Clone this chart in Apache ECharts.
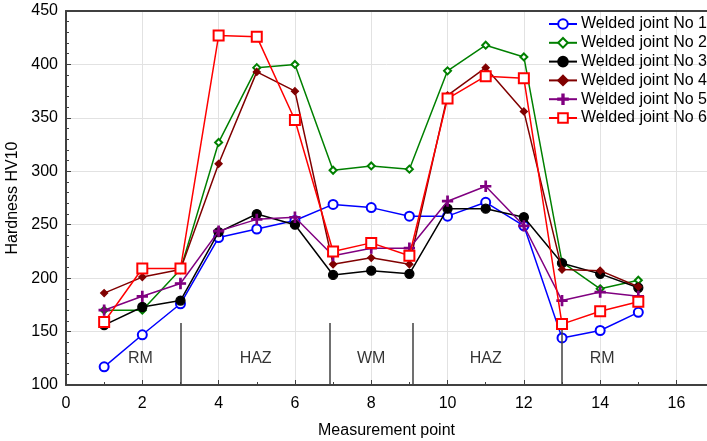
<!DOCTYPE html>
<html>
<head>
<meta charset="utf-8">
<script src="https://cdn.jsdelivr.net/npm/echarts@6/dist/echarts.min.js"></script>
<style>html,body{margin:0;padding:0;background:#fff}#c{width:707px;height:441px}</style>
</head>
<body>
<div id="c"></div>
<script>
var points = [1,2,3,4,5,6,7,8,9,10,11,12,13,14,15];
var seriesNames = ['Welded joint No 1','Welded joint No 2','Welded joint No 3','Welded joint No 4','Welded joint No 5','Welded joint No 6'];
var joint1 = [117,147,176,238,246,254,269,266,258,258,271,249,144,151,168];
var joint2 = [170,170,208,327,397,400,301,305,302,394,418,407,215,190,198];
var joint3 = [156,173,179,243,260,250,203,207,204,265,265,257,214,204,191];
var joint4 = [186,201,208,307,393,375,213,219,213,371,397,356,208,207,192];
var joint5 = [170,183,195,244,255,257,221,228,228,272,286,249,179,187,183];
var joint6 = [159,209,209,427,426,348,225,233,221,368,389,387,157,169,178];
var xTicks = [0,2,4,6,8,10,12,14,16];
var yTicks = [100,150,200,250,300,350,400,450];
var dividerX = [3, 6.9, 9.1, 13];
var dividerTop = 158;
var regionNames = ['RM','HAZ','WM','HAZ','RM'];
var regionX = [1.95, 4.97, 8.0, 11.0, 14.05];
var regionY = 125;

var colors = ['#0000ff','#008000','#000000','#800000','#800080','#ff0000'];
var symbols = ['emptyCircle','emptyDiamond','circle','diamond',
  'path://M4.3,0L5.7,0L5.7,4.3L10,4.3L10,5.7L5.7,5.7L5.7,10L4.3,10L4.3,5.7L0,5.7L0,4.3L4.3,4.3Z','emptyRect'];
var sizes = [9,7,9,7,10,10];
var allData = [joint1,joint2,joint3,joint4,joint5,joint6];

var FONT = 'Liberation Sans, Arial, sans-serif';
var FS = 16;
var series = allData.map(function(d,i){
  return {
    name: seriesNames[i], type:'line', data: points.map(function(p,j){return [p,d[j]];}),
    symbol: symbols[i], symbolSize: sizes[i], showAllSymbol:true,
    lineStyle:{color:colors[i], width:1.5},
    itemStyle:{color:colors[i], borderColor:colors[i], borderWidth:1.3},
    emphasis:{disabled:true}, animation:false, z: 3+i
  };
});
series.push({
  type:'line', name:'div', data:[], silent:true, animation:false,
  markLine:{silent:true, symbol:['none','none'], animation:false, label:{show:false},
    lineStyle:{color:'#404040', width:1.5, type:'solid'},
    data: dividerX.map(function(x){return [{coord:[x,dividerTop]},{coord:[x,100]}];})}
});
series.push({
  type:'scatter', name:'regions', symbolSize:0, silent:true, animation:false,
  data: regionNames.map(function(n,i){return {value:[regionX[i],regionY], name:n};}),
  label:{show:true, position:'inside', formatter:function(p){return p.name;}, color:'#000', fontSize:FS, fontFamily:FONT}
});

var chart = echarts.init(document.getElementById('c'), null, {renderer:'canvas'});
chart.setOption({
  animation:false,
  backgroundColor:'#fff',
  grid:{left:66, right:0, top:11, bottom:56, containLabel:false, outerBoundsMode:'none'},
  legend:{
    data: seriesNames, orient:'vertical', left:548, top:16,
    itemWidth:28, itemHeight:12, itemGap:2.8, padding:0,
    textStyle:{fontSize:FS, fontFamily:FONT, color:'#000', padding:[0,0,0,-1]},
    selectedMode:false
  },
  xAxis:[{
    type:'value', min:0, max:16.8, interval:2,
    name:'Measurement point', nameLocation:'middle', nameGap:38,
    nameTextStyle:{fontSize:FS, fontFamily:FONT, color:'#000'},
    axisLine:{show:true, onZero:false, lineStyle:{color:'#404040', width:2}},
    axisTick:{show:true, inside:true, length:5, lineStyle:{color:'#404040'}},
    minorTick:{show:true, splitNumber:2, length:3, lineStyle:{color:'#404040'}},
    axisLabel:{fontSize:FS, fontFamily:FONT, color:'#000', margin:11, showMaxLabel:false,
      formatter:function(v){return xTicks.indexOf(v)>=0 ? String(v) : '';}},
    splitLine:{show:true, lineStyle:{color:'#e2e2e2', width:1}}
  },{
    type:'value', position:'top', min:0, max:16.8,
    axisLine:{show:true, onZero:false, lineStyle:{color:'#404040', width:2}},
    axisTick:{show:false}, axisLabel:{show:false}, splitLine:{show:false}
  }],
  yAxis:{
    type:'value', min:100, max:450, interval:50,
    name:'Hardness HV10', nameLocation:'middle', nameGap:40,
    nameTextStyle:{fontSize:FS, fontFamily:FONT, color:'#000'},
    axisLine:{show:true, onZero:false, lineStyle:{color:'#404040', width:2}},
    axisTick:{show:true, inside:true, length:5, lineStyle:{color:'#404040'}},
    minorTick:{show:true, splitNumber:5, length:3, lineStyle:{color:'#404040'}},
    axisLabel:{fontSize:FS, fontFamily:FONT, color:'#000', margin:8,
      formatter:function(v){return yTicks.indexOf(v)>=0 ? String(v) : '';}},
    splitLine:{show:true, lineStyle:{color:'#e2e2e2', width:1}}
  },
  series: series
});
</script>
</body>
</html>
